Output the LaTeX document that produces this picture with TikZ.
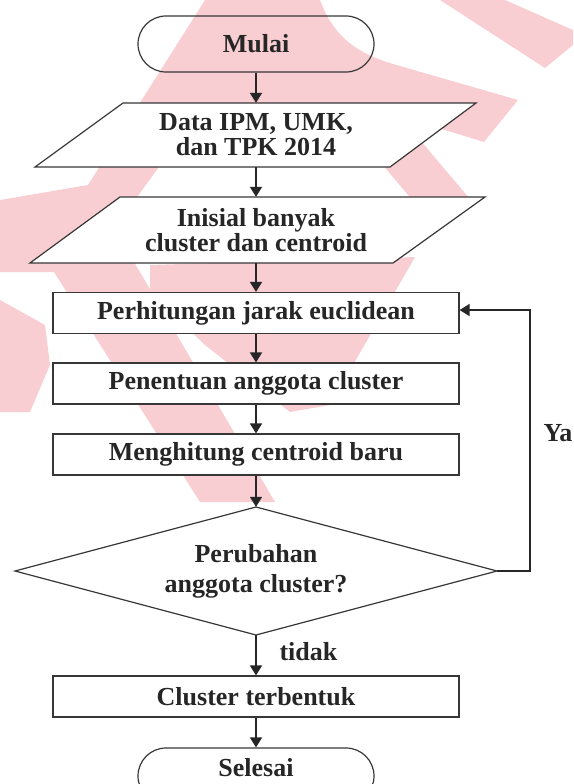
\documentclass[tikz,border=0pt]{standalone}
\usepackage{fontspec}
\setmainfont{Liberation Serif}
\usetikzlibrary{arrows.meta,shapes.geometric}
\definecolor{wm}{RGB}{249,206,210}
\definecolor{ln}{RGB}{55,55,55}
\begin{document}
\begin{tikzpicture}[x=1pt,y=-1pt,
  txt/.style={font=\fontsize{26}{25}\selectfont\bfseries, text=black!85},
  term/.style={txt, draw=ln, line width=1.2pt, rounded corners=28pt, minimum width=236pt, minimum height=56pt, inner sep=0pt},
  procbox/.style={txt, draw=ln, fill=white, line width=1.2pt, minimum width=406pt, minimum height=41pt, inner sep=0pt},
  iobox/.style={txt, align=center, minimum width=260pt, inner sep=0pt},
  ioshape/.style={draw=ln, fill=white, line width=1.2pt},
  flow/.style={line width=1.7pt, draw=black!85, -{Triangle[length=10pt,width=12pt]}},
  lbl/.style={txt}
]
\useasboundingbox (0,0) rectangle (573,784);
% watermark
\fill[wm] (205,0) -- (320,0) .. controls (335,40) and (360,55) .. (400,66) -- (518,100) -- (484,142) -- (380,110) -- (200,110) -- (135,200) -- (60,272) -- (0,272) -- (0,200) -- (88,185) -- cycle;
\fill[wm] (440,0) -- (505,0) -- (573,30) -- (573,45) -- (545,68) -- cycle;
\fill[wm] (370,150) -- (420,140) -- (475,205) -- (425,215) -- cycle;
\fill[wm] (150,265) -- (415,257) -- (330,405) -- (290,412) -- (205,345) -- (150,292) -- cycle;
\fill[wm] (40,250) -- (127,250) -- (275,502) -- (200,502) -- cycle;
\fill[wm] (0,300) -- (45,325) -- (50,365) -- (30,412) -- (0,412) -- cycle;
% shapes
\node[term] (mulai) at (256,44) {Mulai};
\draw[ioshape] (123,103) -- (476,103) -- (390,167) -- (35,167) -- cycle;
\node[iobox, minimum height=64pt] (data) at (256,135) {Data IPM, UMK,\\dan TPK 2014};
\draw[ioshape] (120,197) -- (485,197) -- (393,263) -- (30,263) -- cycle;
\node[iobox, minimum height=66pt] (inisial) at (256,230) {Inisial banyak\\cluster dan centroid};
\node[procbox] (perh) at (256,313) {Perhitungan jarak euclidean};
\node[procbox] (pen) at (256,383.5) {Penentuan anggota cluster};
\node[procbox] (meng) at (256,454.5) {Menghitung centroid baru};
\draw[ioshape] (15,571) -- (256,507) -- (497,571) -- (256,635) -- cycle;
\node[iobox, minimum width=482pt, minimum height=128pt, font=\fontsize{26}{30}\selectfont\bfseries] (dec) at (256,571) {Perubahan\\anggota cluster?};
\node[procbox] (clus) at (256,696.5) {Cluster terbentuk};
\node[term] (selesai) at (256,776) {};
\node[txt] (selesaitxt) at (256,768) {Selesai};
% connectors
\draw[flow] (mulai.south) -- (mulai.south |- data.north);
\draw[flow] (data.south) -- (data.south |- inisial.north);
\draw[flow] (inisial.south) -- (inisial.south |- perh.north);
\draw[flow] (perh.south) -- (pen.north);
\draw[flow] (pen.south) -- (meng.north);
\draw[flow] (meng.south) -- (dec.north);
\draw[flow] (dec.south) -- (clus.north);
\draw[flow] (clus.south) -- (selesai.north);
\draw[flow] (dec.east) -- ++(33,0) |- ([yshift=3pt]perh.east);
\node[lbl, anchor=west] (tidak) at (276,652) {tidak};
\node[lbl, anchor=west] (ya) at (540,433) {Ya};
\end{tikzpicture}
\end{document}
